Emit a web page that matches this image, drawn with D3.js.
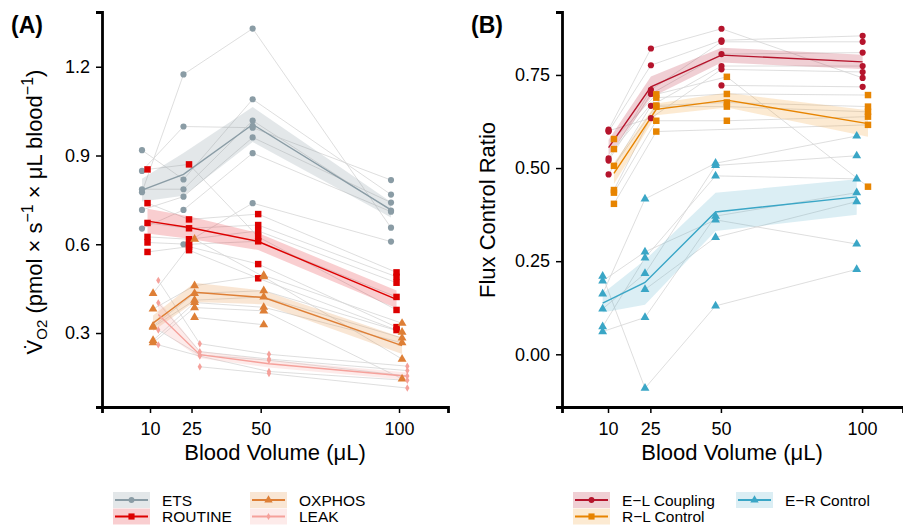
<!DOCTYPE html>
<html>
<head>
<meta charset="utf-8">
<script src="https://cdn.jsdelivr.net/npm/d3@7"></script>
<style>
  body { margin: 0; background: #fff; }
  svg { font-family: "Liberation Sans", Arial, Helvetica, sans-serif; }
</style>
</head>
<body>
<svg id="chart" width="903" height="527"></svg>
<script>
// x categories (blood volume, uL) and tick values
const volumes = [10, 25, 50, 100];
const yTicksA = [0.3, 0.6, 0.9, 1.2];
const yTicksB = [0, 0.25, 0.5, 0.75];

// Panel A: one row per subject, values at 10 / 25 / 50 / 100 uL (null = missing)
const etsValues = [
  [0.776, 1.174, 1.329, 0.656],
  [0.918, 0.819, 1.090, 0.768],
  [0.848, 0.998, 0.994, 0.817],
  [0.786, 0.786, 1.018, 0.714],
  [0.716, 0.761, 0.961, 0.741],
  [0.653, 0.716, 0.908, 0.710],
  [null, 0.600, 0.739, 0.609],
  [null, null, 1.000, null]
];
const routineValues = [
  [0.853, 0.870, 0.625, 0.378],
  [0.739, 0.684, 0.702, 0.505],
  [0.672, 0.654, 0.665, 0.490],
  [0.625, 0.617, 0.645, 0.470],
  [0.606, 0.600, 0.610, 0.422],
  [0.574, 0.592, 0.533, 0.320],
  [null, 0.580, 0.485, 0.310]
];
const oxphosValues = [
  [0.434, 0.617, 0.490, 0.212],
  [0.381, 0.460, 0.495, 0.333],
  [0.323, 0.434, 0.443, 0.303],
  [0.320, 0.411, 0.422, 0.283],
  [0.275, 0.403, 0.387, 0.267],
  [0.267, 0.386, 0.375, 0.145],
  [null, 0.353, 0.328, null]
];
const leakValues = [
  [0.478, 0.264, 0.228, 0.188],
  [0.402, 0.237, 0.212, 0.173],
  [0.310, 0.226, 0.208, 0.155],
  [0.260, 0.222, 0.170, 0.140],
  [null, 0.186, 0.163, 0.114]
];

// Panel B: flux control ratios per subject
const elCouplingValues = [
  [0.603, 0.821, 0.874, 0.742],
  [0.598, 0.776, 0.843, 0.855],
  [0.526, 0.710, 0.839, 0.839],
  [0.520, 0.699, 0.806, 0.810],
  [0.483, 0.667, 0.774, 0.774],
  [0.600, 0.634, 0.765, 0.758],
  [null, null, 0.722, 0.718]
];
const rlControlValues = [
  [0.578, 0.698, 0.745, 0.450],
  [0.551, 0.689, 0.699, 0.696],
  [0.506, 0.668, 0.676, 0.665],
  [0.441, 0.665, 0.665, 0.651],
  [0.434, 0.627, 0.627, 0.638],
  [0.404, 0.598, null, 0.616]
];
const erControlValues = [
  [0.210, -0.091, 0.130, 0.228],
  [0.197, 0.275, 0.361, 0.296],
  [0.162, 0.417, 0.513, 0.586],
  [0.122, 0.217, 0.507, 0.533],
  [0.074, 0.259, 0.479, 0.471],
  [0.061, 0.099, 0.371, 0.434],
  [null, 0.174, 0.314, 0.410]
];

// series styling (colour, shape, horizontal dodge in x units)
const seriesA = [
  { name: 'ETS', values: etsValues, color: '#8a9ca5', fill: '#8a9ca5', op: 0.24, shape: d3.symbolCircle, size: 30, dodge: -2.9 },
  { name: 'ROUTINE', values: routineValues, color: '#dd0000', fill: '#e8323c', op: 0.24, shape: d3.symbolSquare, size: 42, dodge: -0.9 },
  { name: 'OXPHOS', values: oxphosValues, color: '#de7f36', fill: '#e99a55', op: 0.25, shape: d3.symbolTriangle, size: 34, dodge: 1.1 },
  { name: 'LEAK', values: leakValues, color: '#f5a19b', fill: '#f8aaa6', op: 0.24, shape: d3.symbolDiamond, size: 16, dodge: 3.0 }
];
const seriesB = [
  { name: 'E\u2212L Coupling', values: elCouplingValues, color: '#b5142c', fill: '#c0354a', op: 0.24, shape: d3.symbolCircle, size: 30, dodge: 0.2 },
  { name: 'R\u2212L Control', values: rlControlValues, color: '#e78400', fill: '#f0a030', op: 0.22, shape: d3.symbolSquare, size: 42, dodge: 2.1 },
  { name: 'E\u2212R Control', values: erControlValues, color: '#3aa6c6', fill: '#5ab3cf', op: 0.22, shape: d3.symbolTriangle, size: 34, dodge: -1.9 }
];

const svg = d3.select('#chart');

// mean +/- standard error at each volume
function summarise(values) {
  return volumes.map((vol, i) => {
    const col = values.map(r => r[i]).filter(v => v != null);
    const m = d3.mean(col);
    const se = d3.deviation(col) / Math.sqrt(col.length);
    return { vol, mean: m, lo: m - se, hi: m + se };
  });
}

function drawPanel(opts) {
  const { series, x, y, yTicks, yFormat } = opts;
  const g = svg.append('g');
  const xPos = (vol, s) => x(vol + s.dodge);

  // individual subject trajectories
  const subjLine = d3.line()
    .defined(d => d.v != null)
    .x(d => d.x)
    .y(d => y(d.v));
  series.forEach(s => {
    s.values.forEach(row => {
      const pts = row.map((v, i) => ({ x: xPos(volumes[i], s), v }))
        .filter(d => d.v != null);
      g.append('path')
        .attr('d', subjLine(pts))
        .attr('fill', 'none')
        .attr('stroke', '#d6d6d6')
        .attr('stroke-width', 0.8);
    });
  });

  // ribbons
  series.forEach(s => {
    s.summary = summarise(s.values);
    const area = d3.area()
      .x(d => xPos(d.vol, s))
      .y0(d => y(d.lo))
      .y1(d => y(d.hi));
    g.append('path')
      .attr('d', area(s.summary))
      .attr('fill', s.fill)
      .attr('fill-opacity', s.op);
  });

  // mean lines
  series.forEach(s => {
    const line = d3.line()
      .x(d => xPos(d.vol, s))
      .y(d => y(d.mean));
    g.append('path')
      .attr('d', line(s.summary))
      .attr('fill', 'none')
      .attr('stroke', s.color)
      .attr('stroke-width', 1.4);
  });

  // subject points
  series.forEach(s => {
    const pts = [];
    s.values.forEach(row => row.forEach((v, i) => {
      if (v != null) pts.push({ x: xPos(volumes[i], s), v });
    }));
    g.selectAll(null)
      .data(pts)
      .enter().append('path')
      .attr('d', d3.symbol().type(s.shape).size(s.size))
      .attr('transform', d => `translate(${d.x},${y(d.v)})`)
      .attr('fill', s.color);
  });

  // axes
  const yAxis = d3.axisLeft(y)
    .tickValues(yTicks)
    .tickFormat(d3.format(yFormat))
    .tickSizeOuter(0)
    .tickSize(6)
    .tickPadding(6);
  const xAxis = d3.axisBottom(x)
    .tickValues(volumes)
    .tickFormat(d3.format('d'))
    .tickSizeOuter(0)
    .tickSize(6)
    .tickPadding(5);

  const [x0] = x.range();
  const [y0] = y.range();

  const ya = g.append('g')
    .attr('transform', `translate(${x0},0)`)
    .call(yAxis);
  const xa = g.append('g')
    .attr('transform', `translate(0,${y0})`)
    .call(xAxis);

  [ya, xa].forEach(a => {
    a.select('.domain').attr('stroke', '#000').attr('stroke-width', 2.8);
    a.selectAll('.tick line').attr('stroke', '#000').attr('stroke-width', 1.5);
    a.selectAll('.tick text')
      .attr('fill', '#000')
      .style('font-size', '18px')
      .style('font-family', '"Liberation Sans", Arial, sans-serif');
  });
  xa.selectAll('.tick text').attr('dy', '0.95em');
  return g;
}

// ---- Panel A ----
const xA = d3.scaleLinear().domain([-7.35, 117.7]).range([102, 448]);
const yA = d3.scaleLinear().domain([0.05, 1.385]).range([407, 12]);
drawPanel({ series: seriesA, x: xA, y: yA, yTicks: yTicksA, yFormat: '.1f' });

// ---- Panel B ----
const xB = d3.scaleLinear().domain([-6.3, 114.5]).range([562, 903]);
const yB = d3.scaleLinear().domain([-0.1415, 0.919]).range([407, 12]);
drawPanel({ series: seriesB, x: xB, y: yB, yTicks: yTicksB, yFormat: '.2f' });

// axis titles
svg.append('text')
  .attr('x', 275).attr('y', 460)
  .attr('text-anchor', 'middle')
  .style('font-size', '22px')
  .text('Blood Volume (\u03bcL)');
svg.append('text')
  .attr('x', 732).attr('y', 460)
  .attr('text-anchor', 'middle')
  .style('font-size', '22px')
  .text('Blood Volume (\u03bcL)');

const yTitleA = svg.append('text')
  .attr('transform', 'translate(42,212) rotate(-90)')
  .attr('text-anchor', 'middle')
  .style('font-size', '22px');
yTitleA.append('tspan').text('V\u0307');
yTitleA.append('tspan').attr('dy', 5).style('font-size', '15px').text('O2');
yTitleA.append('tspan').attr('dy', -5).text(' (pmol \u00d7 s');
yTitleA.append('tspan').attr('dy', -9).style('font-size', '16px').text('\u22121');
yTitleA.append('tspan').attr('dy', 9).text(' \u00d7 \u03bcL blood');
yTitleA.append('tspan').attr('dy', -9).style('font-size', '16px').text('\u22121');
yTitleA.append('tspan').attr('dy', 9).text(')');

svg.append('text')
  .attr('transform', 'translate(495,210) rotate(-90)')
  .attr('text-anchor', 'middle')
  .style('font-size', '22px')
  .text('Flux Control Ratio');

// panel tags
svg.append('text').attr('x', 11).attr('y', 33)
  .style('font-size', '23px').style('font-weight', 'bold').text('(A)');
svg.append('text').attr('x', 471).attr('y', 33)
  .style('font-size', '23px').style('font-weight', 'bold').text('(B)');

// legend key: ribbon box + line + point, label to the right
function legendKey(s, bx, by) {
  const k = svg.append('g').attr('transform', `translate(${bx},${by})`);
  k.append('rect').attr('width', 37).attr('height', 16)
    .attr('fill', s.fill).attr('fill-opacity', s.op);
  k.append('line').attr('x1', 2).attr('x2', 35).attr('y1', 8).attr('y2', 8)
    .attr('stroke', s.color).attr('stroke-width', 2);
  k.append('path')
    .attr('d', d3.symbol().type(s.shape).size(s.size * 0.9))
    .attr('transform', 'translate(18.5,8)')
    .attr('fill', s.color);
  svg.append('text')
    .attr('x', bx + 49).attr('y', by + 13.5)
    .style('font-size', '15.5px')
    .text(s.name);
}
legendKey(seriesA[0], 113, 492);
legendKey(seriesA[1], 113, 508.5);
legendKey(seriesA[2], 250, 492);
legendKey(seriesA[3], 250, 508.5);
legendKey(seriesB[0], 573, 492);
legendKey(seriesB[1], 573, 508.5);
legendKey(seriesB[2], 736, 492);
</script>
</body>
</html>
